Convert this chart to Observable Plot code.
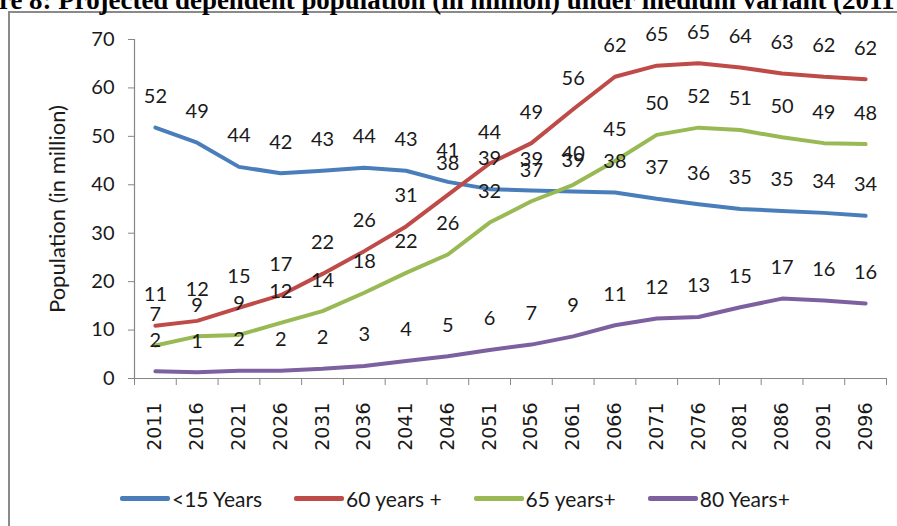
<!DOCTYPE html>
<html>
<head>
<meta charset="utf-8">
<script src="https://cdn.jsdelivr.net/npm/d3@7"></script>
<script src="https://cdn.jsdelivr.net/npm/@observablehq/plot@0.6"></script>
<style>
  html, body { margin: 0; padding: 0; background: #fff; }
  #page { position: relative; width: 897px; height: 526px; overflow: hidden; background: #fff; }
  #frame { position: absolute; left: 8px; top: 11px; width: 1200px; height: 1200px;
           border-top: 2px solid #8a8a8a; border-left: 2px solid #8a8a8a; box-sizing: border-box; }
  #title { position: absolute; left: 0; top: 0; }
  #chart { position: absolute; left: 0; top: 0; }
  #legend { position: absolute; left: 120px; top: 486px; display: flex; align-items: center;
            gap: 32px; font-family: Lato, sans-serif; font-size: 21px; color: #1a1a1a; white-space: nowrap; }
  .item { display: flex; align-items: center; gap: 2px; }
  .swatch { width: 50px; height: 5px; border-radius: 2px; }
</style>
</head>
<body>
<div id="page">
  <div id="frame"></div>
  <svg id="title" width="897" height="20"><text id="titleText" x="-1" y="9" font-family="Liberation Serif, serif" font-weight="bold" font-size="24" fill="#000">re 8: Projected dependent population (in million) under medium variant (2011</text></svg>
  <div id="chart"></div>
  <div id="legend"></div>
</div>
<script>
const years = [2011, 2016, 2021, 2026, 2031, 2036, 2041, 2046, 2051, 2056, 2061, 2066, 2071, 2076, 2081, 2086, 2091, 2096];
const under15 = [51.8, 48.7, 43.7, 42.4, 42.9, 43.5, 42.9, 40.6, 39.1, 38.8, 38.6, 38.4, 37.1, 36.0, 35.0, 34.6, 34.2, 33.6];
const over60  = [10.9, 11.9, 14.6, 17.2, 21.6, 26.3, 31.4, 37.9, 44.4, 48.6, 55.6, 62.3, 64.6, 65.1, 64.2, 63.0, 62.3, 61.8];
const over65  = [6.8, 8.7, 9.0, 11.5, 13.9, 17.7, 21.8, 25.6, 32.2, 36.6, 40.0, 44.9, 50.3, 51.8, 51.3, 49.8, 48.6, 48.4];
const over80  = [1.5, 1.3, 1.6, 1.6, 2.0, 2.6, 3.6, 4.6, 5.9, 7.0, 8.7, 11.0, 12.4, 12.7, 14.7, 16.5, 16.1, 15.5];
const seriesNames = ["<15 Years", "60 years +", "65 years+", "80 Years+"];
const seriesColors = ["#4A7EBB", "#BE4B48", "#98B954", "#7D60A0"];
const yTicks = [0, 10, 20, 30, 40, 50, 60, 70];
const yLabel = "Population (in million)";

const seriesValues = [under15, over60, over65, over80];
const data = [];
seriesNames.forEach((name, i) => {
  years.forEach((yr, j) => data.push({series: name, year: yr, value: seriesValues[i][j]}));
});
const step = years[1] - years[0];
const boundaries = years.map(y => y - step / 2).concat([years[years.length - 1] + step / 2]);
const axisGray = "#868686";
const textColor = "#1a1a1a";

const chart = Plot.plot({
  width: 897,
  height: 526,
  marginLeft: 134,
  marginRight: 11,
  marginTop: 39,
  marginBottom: 148,
  style: {fontFamily: "Lato, sans-serif", background: "transparent", overflow: "visible"},
  x: {type: "linear", domain: [boundaries[0], boundaries[boundaries.length - 1]], axis: null},
  y: {domain: [0, 70], axis: null},
  color: {domain: seriesNames, range: seriesColors},
  marks: [
    Plot.axisY({ticks: yTicks, tickSize: 6, tickPadding: 14, fontSize: 20, stroke: axisGray, fill: textColor, label: null, tickFormat: d => String(d)}),
    Plot.axisX({ticks: boundaries, tickSize: 7, stroke: axisGray, label: null, tickFormat: () => ""}),
    Plot.ruleX([boundaries[0]], {stroke: axisGray, strokeWidth: 1.2}),
    Plot.ruleY([0], {stroke: axisGray, strokeWidth: 1.2}),
    Plot.text(years, {x: d => d, y: () => 0, text: d => String(d), dy: 24, rotate: -90, textAnchor: "end", lineAnchor: "middle", fontFamily: "DejaVu Sans, sans-serif", fontSize: 19, fill: textColor}),
    Plot.text([yLabel], {frameAnchor: "left", dx: -77, rotate: -90, text: d => d, fontSize: 22, fill: textColor, lineAnchor: "middle", textAnchor: "middle"}),
    Plot.line(data, {x: "year", y: "value", z: "series", stroke: "series", strokeWidth: 4, strokeLinejoin: "round", strokeLinecap: "round"}),
    Plot.text(data, {x: "year", y: "value", text: d => String(Math.round(d.value)), dy: -31, fontSize: 20, fill: textColor, lineAnchor: "middle"})
  ]
});
document.getElementById("chart").appendChild(chart);

// legend
const legend = document.getElementById("legend");
seriesNames.forEach((name, i) => {
  const item = document.createElement("div");
  item.className = "item";
  const sw = document.createElement("div");
  sw.className = "swatch";
  sw.style.background = seriesColors[i];
  const lab = document.createElement("span");
  lab.textContent = name;
  item.appendChild(sw);
  item.appendChild(lab);
  legend.appendChild(item);
});

// fit title width
const t = document.getElementById("titleText");
const w = t.getComputedTextLength();
if (w > 0) t.setAttribute("font-size", (24 * 896 / w).toFixed(2));
</script>
</body>
</html>
